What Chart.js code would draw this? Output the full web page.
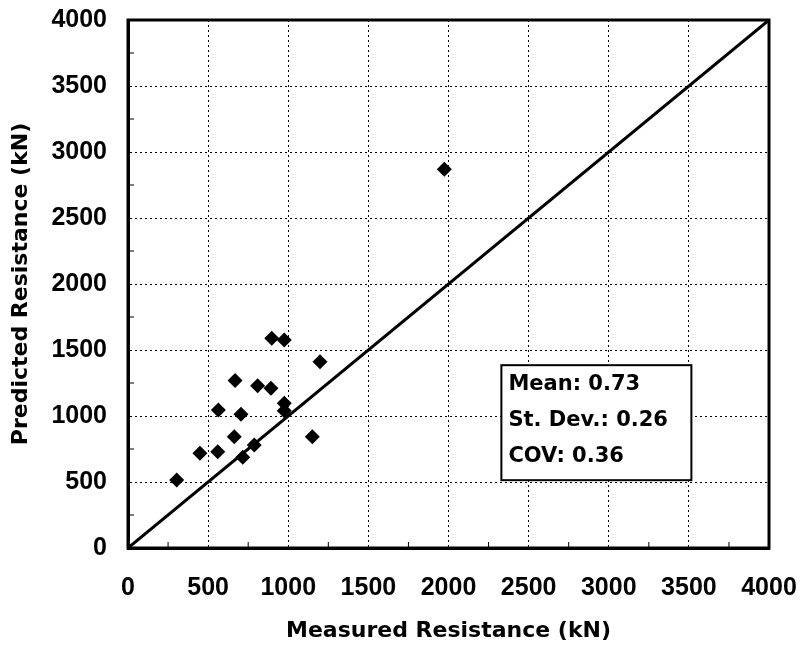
<!DOCTYPE html>
<html>
<head>
<meta charset="utf-8">
<script src="https://cdn.jsdelivr.net/npm/chart.js@4/dist/chart.umd.min.js"></script>
<style>
  html, body { margin: 0; padding: 0; background: #fff; }
  #wrap { width: 803px; height: 651px; }
</style>
</head>
<body>
<div id="wrap"><canvas id="c" width="803" height="651"></canvas></div>
<script>
// measured vs predicted (kN)
var measured  = [304, 449, 560, 564, 663, 668, 705, 716, 788, 809, 892, 897, 975, 975, 975, 1150, 1198, 1974];
var predicted = [515, 717, 730, 1045, 843, 1268, 1013, 687, 780, 1230, 1210, 1589, 1576, 1096, 1040, 843, 1411, 2869];
var tickValues = [0, 500, 1000, 1500, 2000, 2500, 3000, 3500, 4000];
var minorTicks = [250, 750, 1250, 1750, 2250, 2750, 3250, 3750];
var statLines = ["Mean: 0.73", "St. Dev.: 0.26", "COV: 0.36"];

var TICKFONT = "'Liberation Sans', Arial, sans-serif";
var TITLEFONT = "'DejaVu Sans', sans-serif";

var points = measured.map(function(m, i) { return { x: m, y: predicted[i] }; });

// frame, minor ticks and the stats box
var framePlugin = {
  id: "frame",
  afterDraw: function(chart) {
    var ctx = chart.ctx, a = chart.chartArea;
    var xs = chart.scales.x, ys = chart.scales.y;
    ctx.save();
    ctx.strokeStyle = "#000";
    ctx.lineWidth = 3;
    ctx.strokeRect(a.left, a.top, a.right - a.left, a.bottom - a.top);

    ctx.lineWidth = 1;
    ctx.beginPath();
    minorTicks.forEach(function(v) {
      var px = xs.getPixelForValue(v), py = ys.getPixelForValue(v);
      ctx.moveTo(px, a.bottom); ctx.lineTo(px, a.bottom - 6);
      ctx.moveTo(a.left, py); ctx.lineTo(a.left + 6, py);
    });
    ctx.stroke();

    var bx = xs.getPixelForValue(2330), by = ys.getPixelForValue(1385);
    ctx.fillStyle = "#fff";
    ctx.fillRect(bx, by, 190, 115);
    ctx.lineWidth = 2;
    ctx.strokeRect(bx, by, 190, 115);
    ctx.fillStyle = "#000";
    ctx.font = "bold 21px " + TITLEFONT;
    ctx.textBaseline = "middle";
    statLines.forEach(function(t, i) {
      ctx.fillText(t, bx + 7, by + 19 + i * 36);
    });
    ctx.restore();
  }
};

function noComma(v) { return String(v); }

new Chart(document.getElementById("c"), {
  type: "scatter",
  data: {
    datasets: [
      {
        data: points,
        pointStyle: "rectRot",
        pointRadius: 7.5,
        backgroundColor: "#000",
        borderColor: "#000",
        borderWidth: 0
      },
      {
        type: "line",
        data: [{ x: 0, y: 0 }, { x: 4000, y: 4000 }],
        borderColor: "#000",
        borderWidth: 3,
        pointRadius: 0,
        fill: false
      }
    ]
  },
  options: {
    responsive: false,
    animation: false,
    layout: { padding: { top: 20, right: 34, left: 0, bottom: 0 } },
    plugins: { legend: { display: false }, tooltip: { enabled: false } },
    scales: {
      x: {
        type: "linear",
        min: 0, max: 4000,
        afterBuildTicks: function(s) { s.ticks = tickValues.map(function(v) { return { value: v }; }); },
        afterFit: function(s) { s.height = 103; s.paddingLeft = 0; s.paddingRight = 0; },
        grid: { color: "#000", lineWidth: 1, drawTicks: false },
        border: { display: true, color: "#000", width: 3, dash: [2, 3] },
        ticks: { color: "#000", padding: 25, callback: noComma, maxRotation: 0,
                 font: { family: TICKFONT, size: 25, weight: "bold" } },
        title: { display: true, text: "Measured Resistance (kN)", color: "#000", padding: { top: 0, bottom: 7 },
                 font: { family: TITLEFONT, size: 22, weight: "bold" } }
      },
      y: {
        type: "linear",
        min: 0, max: 4000,
        afterBuildTicks: function(s) { s.ticks = tickValues.map(function(v) { return { value: v }; }); },
        afterFit: function(s) { s.width = 128; s.paddingTop = 0; s.paddingBottom = 0; },
        grid: { color: "#000", lineWidth: 1, drawTicks: false },
        border: { display: true, color: "#000", width: 3, dash: [2, 3] },
        ticks: { color: "#000", padding: 21, callback: noComma,
                 font: { family: TICKFONT, size: 25, weight: "bold" } },
        title: { display: true, text: "Predicted Resistance (kN)", color: "#000", padding: { top: 8, bottom: 0 },
                 font: { family: TITLEFONT, size: 22, weight: "bold" } }
      }
    }
  },
  plugins: [framePlugin]
});
</script>
</body>
</html>
